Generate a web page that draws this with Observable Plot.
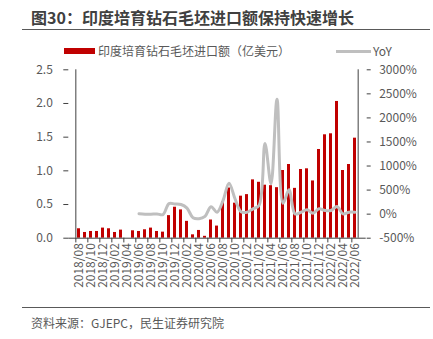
<!DOCTYPE html>
<html><head><meta charset="utf-8">
<script src="https://cdn.jsdelivr.net/npm/d3@7"></script>
<script src="https://cdn.jsdelivr.net/npm/@observablehq/plot@0.6"></script>
<style>
body{margin:0;width:433px;height:339px;background:#fff;position:relative;overflow:hidden;font-family:"Noto Sans CJK SC","Noto Sans",sans-serif;}
#title{position:absolute;left:31px;top:6px;font-size:16px;font-weight:bold;color:#404040;white-space:nowrap;line-height:22px;}
#tline{position:absolute;left:22px;top:29px;width:408px;height:0;border-top:1.5px solid #595959;}
#legend{position:absolute;left:0;top:41px;width:433px;height:20px;font-size:12px;color:#595959;}
#legend .sw1{position:absolute;left:64px;top:7px;width:31px;height:6px;background:#c00000;}
#legend .t1{position:absolute;left:98px;top:1px;white-space:nowrap;line-height:18px;}
#legend .sw2{position:absolute;left:336px;top:9px;width:35px;height:3px;background:#bfbfbf;}
#legend .t2{position:absolute;left:373px;top:1px;line-height:18px;}
#chart{position:absolute;left:0;top:60px;}
#bline{position:absolute;left:22px;top:307px;width:408px;height:0;border-top:1.5px solid #595959;}
#foot{position:absolute;left:31px;top:314px;font-size:12px;color:#595959;white-space:nowrap;line-height:18px;}
</style></head>
<body>
<div id="title">图30：印度培育钻石毛坯进口额保持快速增长</div>
<div id="tline"></div>
<div id="legend"><div class="sw1"></div><div class="t1">印度培育钻石毛坯进口额（亿美元）</div><div class="sw2"></div><div class="t2">YoY</div></div>
<div id="chart"></div>
<div id="bline"></div>
<div id="foot">资料来源：GJEPC，民生证券研究院</div>
<script>
const months = ["2018/08","2018/09","2018/10","2018/11","2018/12",
"2019/01","2019/02","2019/03","2019/04","2019/05","2019/06","2019/07","2019/08","2019/09","2019/10","2019/11","2019/12",
"2020/01","2020/02","2020/03","2020/04","2020/05","2020/06","2020/07","2020/08","2020/09","2020/10","2020/11","2020/12",
"2021/01","2021/02","2021/03","2021/04","2021/05","2021/06","2021/07","2021/08","2021/09","2021/10","2021/11","2021/12",
"2022/01","2022/02","2022/03","2022/04","2022/05","2022/06"];
const imports = [0.14,0.085,0.10,0.10,0.15,
0.14,0.085,0.12,0,0.11,0.10,0.125,0.15,0.10,0.09,0.335,0.46,
0.42,0.25,0.05,0.115,0.028,0.27,0.18,0.54,0.745,0.52,0.624,0.647,
0.866,0.83,0.787,0.78,0.75,1.005,1.094,0.74,1.02,1.03,0.85,1.317,
1.535,1.55,2.03,1.005,1.094,1.485];
const yoyMonths = months.slice(10);
const yoy = [10,0,0,5,-10,220,210,
200,125,-75,-95,-45,155,40,280,640,320,50,40,
110,180,1470,630,2390,227,505,5,40,90,20,110,
75,75,160,5,40,40];
const leftTicks = [0,0.5,1,1.5,2,2.5];
const rightTicks = [-500,0,500,1000,1500,2000,2500,3000];

const toLeft = v => (v + 500) / 3500 * 2.5;
const barData = months.map((m,i)=>({month:m, value:imports[i]}));
const lineData = yoyMonths.map((m,i)=>({month:m, yoy:yoy[i]}));
const labelMonths = months.filter((m,i)=>i%2===0);
const step = (365.7-68.3)/months.length;
const axisColor = "#404040";

const plot = Plot.plot({
  width: 433, height: 240,
  marginTop: 9.3, marginBottom: 62.3, marginLeft: 68.3, marginRight: 67.3,
  style: {fontFamily: '"Noto Sans CJK SC","Noto Sans",sans-serif', fontSize: "12px", color: "#595959", background: "transparent"},
  x: {domain: months, paddingInner: 0.45, paddingOuter: 0.225, label: null},
  y: {domain: [0, 2.5], label: null},
  marks: [
    Plot.barY(barData, {x: "month", y: "value", fill: "#c00000"}),
    Plot.line(lineData, {x: "month", y: d => toLeft(d.yoy), stroke: "#bfbfbf", strokeWidth: 3, curve: "catmull-rom"}),
    Plot.ruleY([0], {stroke: axisColor, strokeWidth: 1}),
    Plot.ruleX([months[0]], {x: d=>d, dx: -step/2, y1: 0, y2: 2.5, stroke: axisColor}),
    Plot.ruleX([months[months.length-1]], {x: d=>d, dx: step/2, y1: 0, y2: 2.5, stroke: axisColor}),
    Plot.ruleX(labelMonths, {x: d=>d, dx: -step/2, y1: 0, y2: -0.07, stroke: axisColor}),
    Plot.axisY({ticks: leftTicks, tickFormat: d3.format(".1f"), tickSize: 5, tickPadding: 11, stroke: axisColor, fill: "#595959", fontSize: 12}),
    Plot.axisY({anchor: "right", ticks: rightTicks.map(toLeft), tickFormat: d => Math.round(d*3500/2.5 - 500) + "%", tickSize: 4, tickPadding: 9, stroke: axisColor, fill: "#595959", fontSize: 12}),
    Plot.axisX({ticks: labelMonths, tickRotate: -90, tickSize: 0, tickPadding: 5, fill: "#595959", fontSize: 12})
  ]
});
document.getElementById("chart").appendChild(plot);
</script>
</body></html>
